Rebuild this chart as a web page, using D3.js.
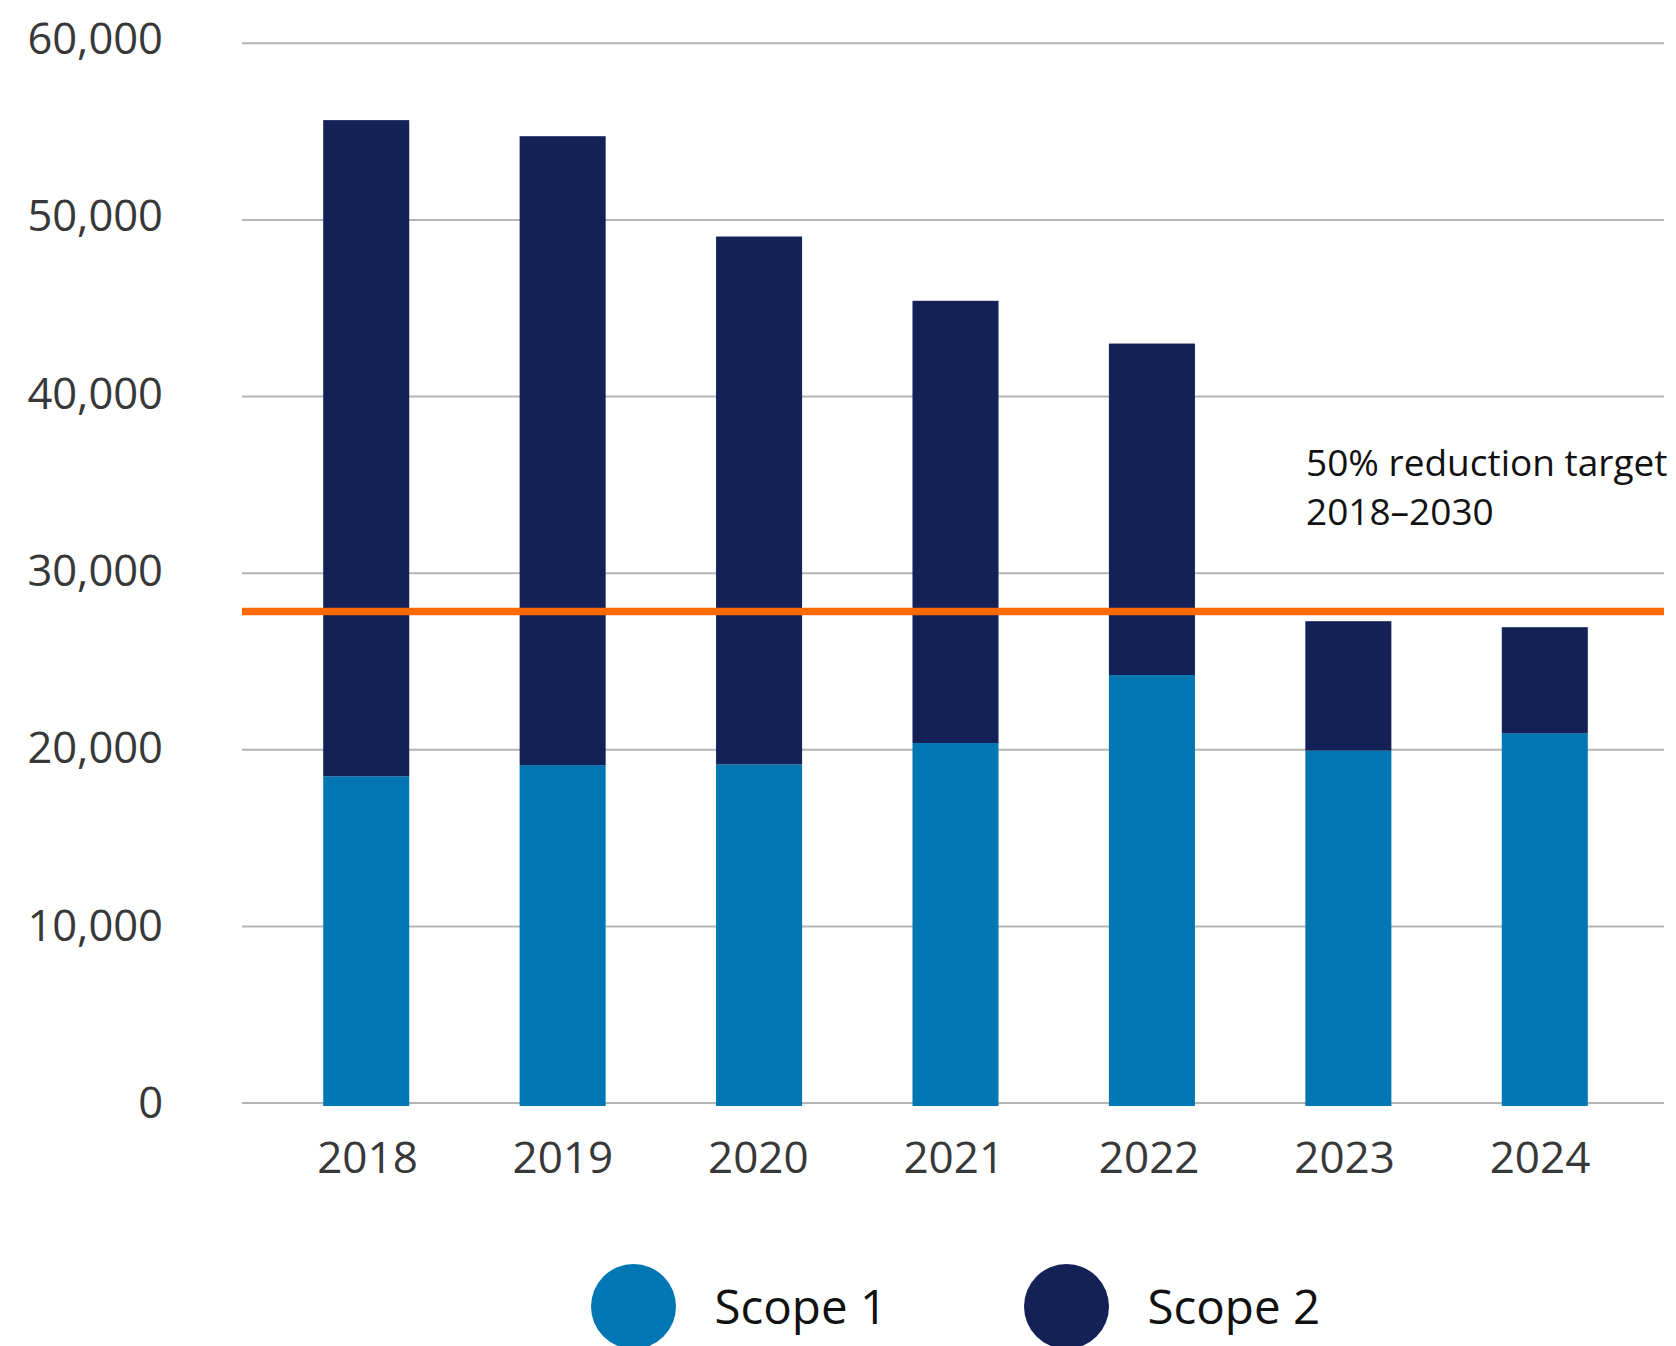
<!DOCTYPE html>
<html>
<head>
<meta charset="utf-8">
<script src="https://cdn.jsdelivr.net/npm/d3@7"></script>
<style>
  html, body { margin: 0; padding: 0; background: #fff; }
  svg { display: block; font-family: "Open Sans", "Noto Sans", sans-serif; }
</style>
</head>
<body>
<svg id="chart" width="1676" height="1346"></svg>
<script>
// Emissions by year, stacked Scope 1 + Scope 2
const years = ["2018", "2019", "2020", "2021", "2022", "2023", "2024"];
const scope1 = [18500, 19130, 19170, 20380, 24230, 19950, 20940];
const scope2 = [37150, 35610, 29890, 25040, 18770, 7330, 6000];
const yTicks = [0, 10000, 20000, 30000, 40000, 50000, 60000];
const targetValue = 27825;              // 50% of the 2018 total
const targetLabel = ["50% reduction target", "2018–2030"];
const seriesNames = ["Scope 1", "Scope 2"];
const seriesColors = ["#0077b3", "#142157"];

const svg = d3.select("#chart");

const gridLeft = 242, gridRight = 1664;
const y = d3.scaleLinear().domain([0, 60000]).range([1103, 43.3]);
// tick labels sit on a slightly taller span than the gridlines
const yLabel = d3.scaleLinear().domain([0, 60000]).range([1101.5, 37.5]);
const x = d3.scaleBand()
  .domain(years)
  .range([268, 1643])
  .paddingInner(0.562)
  .paddingOuter(0.281);
// category labels are spaced a touch tighter than the bars
const xLabel = d3.scalePoint().domain(years).range([367.5, 1540]);

// horizontal gridlines
svg.append("g")
  .selectAll("line")
  .data(yTicks)
  .join("line")
  .attr("x1", gridLeft)
  .attr("x2", gridRight)
  .attr("y1", d => y(d))
  .attr("y2", d => y(d))
  .attr("stroke", "#b5b5b5")
  .attr("stroke-width", 2);

// y tick labels
const fmt = d3.format(",");
svg.append("g")
  .selectAll("text")
  .data(yTicks)
  .join("text")
  .attr("x", 163)
  .attr("y", d => yLabel(d))
  .attr("text-anchor", "end")
  .attr("dominant-baseline", "central")
  .attr("font-size", 43.5)
  .attr("fill", "#383838")
  .text(d => fmt(d));

// stacked bars
const rows = years.map((yr, i) => ({ year: yr, s1: scope1[i], s2: scope2[i] }));
const stack = d3.stack().keys(["s1", "s2"])(rows);
const baseOverhang = 3;

svg.append("g")
  .selectAll("g")
  .data(stack)
  .join("g")
  .attr("fill", (d, i) => seriesColors[i])
  .selectAll("rect")
  .data(d => d)
  .join("rect")
  .attr("x", d => x(d.data.year))
  .attr("width", x.bandwidth())
  .attr("y", d => y(d[1]))
  .attr("height", d => y(d[0]) - y(d[1]) + (d[0] === 0 ? baseOverhang : 0));

// target line
svg.append("line")
  .attr("x1", gridLeft)
  .attr("x2", gridRight)
  .attr("y1", y(targetValue))
  .attr("y2", y(targetValue))
  .attr("stroke", "#ff6a00")
  .attr("stroke-width", 7.5);

// target label
svg.append("text")
  .attr("x", 1306)
  .attr("y", 476)
  .attr("font-size", 37)
  .attr("fill", "#111")
  .selectAll("tspan")
  .data(targetLabel)
  .join("tspan")
  .attr("x", 1306)
  .attr("dy", (d, i) => i === 0 ? 0 : 48.5)
  .text(d => d);

// x axis labels
svg.append("g")
  .selectAll("text")
  .data(years)
  .join("text")
  .attr("x", d => xLabel(d))
  .attr("y", 1173)
  .attr("text-anchor", "middle")
  .attr("font-size", 44)
  .attr("fill", "#383838")
  .text(d => d);

// legend
const legendX = [633.5, 1066.5];
const legend = svg.append("g")
  .selectAll("g")
  .data(seriesNames)
  .join("g");
legend.append("circle")
  .attr("cx", (d, i) => legendX[i])
  .attr("cy", 1306.5)
  .attr("r", 42.5)
  .attr("fill", (d, i) => seriesColors[i]);
legend.append("text")
  .attr("x", (d, i) => legendX[i] + 81)
  .attr("y", 1324)
  .attr("font-size", 47.5)
  .attr("fill", "#111")
  .text(d => d);
</script>
</body>
</html>
